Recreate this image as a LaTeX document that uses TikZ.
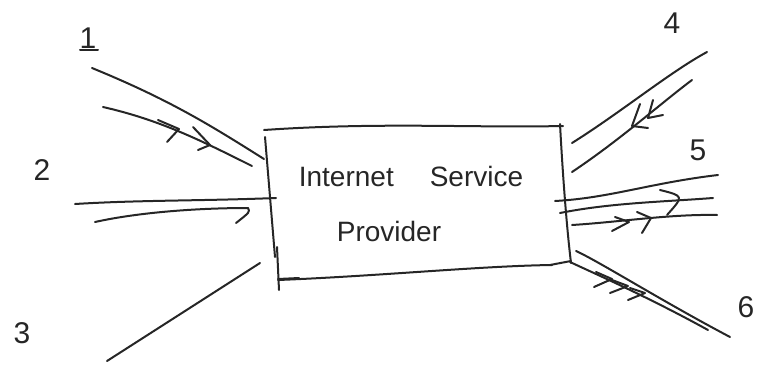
\documentclass[tikz,border=0pt]{standalone}
\usepackage{fontspec}
\setmainfont{Liberation Sans}
\begin{document}
\begin{tikzpicture}[x=1pt,y=-1pt,
  pen/.style={line width=2pt, line cap=round, line join=round, draw=black!85},
  barb/.style={pen},
  digit/.style={font=\fontsize{30}{32}\selectfont, text=black!85, inner sep=0pt},
  label/.style={font=\fontsize{28}{30}\selectfont, text=black!85, inner sep=0pt}]
\useasboundingbox (0,0) rectangle (757,364);

% provider box, drawn freehand
\draw[pen] (264,130) .. controls (380,122) and (470,128) .. (563,126);
\draw[pen] (560,124) .. controls (563,180) and (567,230) .. (571,263);
\draw[pen] (550,265) -- (571,261);
\draw[pen] (278,280) .. controls (380,276) and (480,266) .. (552,265);
\draw[pen] (265,137) -- (275,257);
\draw[pen] (277,247) -- (279,290);
\draw[pen] (278,279) -- (299,278);

\node[label] (isp) at (411,176) {Internet\hspace{36pt}Service};
\node[label] (prov) at (389,231) {Provider};

% link 1 (inbound)
\coordinate (a1) at (92,68);   \coordinate (b1) at (264,159);
\coordinate (c1) at (103,107); \coordinate (d1) at (252,166);
\draw[pen] (a1) .. controls (170,100) and (210,125) .. (b1);
\draw[pen] (c1) .. controls (160,120) and (200,140) .. (d1);
\draw[barb] (158,120) -- (179,129) -- (167,142);
\draw[barb] (193,127) -- (210,145) -- (198,150);
\node[digit] (n1) at (88,38) {1};
\draw[pen] (80,50) -- (98,50);

% link 2 (inbound)
\coordinate (a2) at (75,204); \coordinate (b2) at (276,198);
\coordinate (c2) at (95,222); \coordinate (d2) at (248,208);
\draw[pen] (a2) .. controls (140,200) and (200,201) .. (b2);
\draw[pen] (c2) .. controls (140,212) and (200,208) .. (d2);
\draw[barb] (d2) .. controls (250,212) .. (236,223);
\node[digit] (n2) at (42,170) {2};

% link 3
\coordinate (a3) at (107,361); \coordinate (b3) at (260,263);
\draw[pen] (a3) -- (b3);
\node[digit] (n3) at (22,333) {3};

% link 4 (inbound)
\coordinate (a4) at (707,52);  \coordinate (b4) at (572,143);
\coordinate (c4) at (692,80);  \coordinate (d4) at (572,172);
\draw[pen] (b4) .. controls (620,113) and (670,72) .. (a4);
\draw[pen] (d4) .. controls (620,140) and (660,104) .. (c4);
\draw[barb] (640,104) -- (632,126) -- (648,128);
\draw[barb] (653,100) -- (648,118) -- (663,115);
\node[digit] (n4) at (672,23) {4};

% link 5 (outbound)
\coordinate (a5) at (555,201); \coordinate (b5) at (718,175);
\coordinate (c5) at (560,213); \coordinate (d5) at (713,198);
\coordinate (e5) at (572,225); \coordinate (f5) at (717,215);
\draw[pen] (a5) .. controls (610,198) and (650,183) .. (b5);
\draw[pen] (c5) .. controls (610,203) and (660,202) .. (d5);
\draw[pen] (e5) .. controls (620,222) and (670,214) .. (f5);
\draw[barb] (660,190) .. controls (684,196) .. (667,215);
\draw[barb] (615,217) -- (629,222) -- (612,231);
\draw[barb] (637,212) -- (651,218) -- (642,233);
\node[digit] (n5) at (698,150) {5};

% link 6 (outbound)
\coordinate (a6) at (576,251); \coordinate (b6) at (730,337);
\coordinate (c6) at (570,262); \coordinate (d6) at (708,330);
\draw[pen] (a6) .. controls (600,262) and (660,300) .. (b6);
\draw[pen] (c6) .. controls (600,276) and (650,298) .. (d6);
\draw[barb] (596,272) -- (612,279) -- (594,287);
\draw[barb] (612,280) -- (628,286) -- (610,293);
\draw[barb] (630,288) -- (645,293) -- (628,300);
\node[digit] (n6) at (746,307) {6};
\end{tikzpicture}
\end{document}
